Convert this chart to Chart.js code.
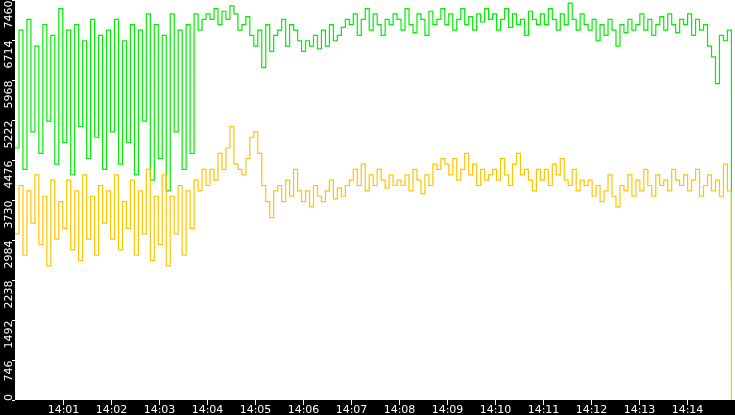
<!DOCTYPE html>
<html><head><meta charset="utf-8">
<script src="https://cdn.jsdelivr.net/npm/chart.js@4"></script>
<style>html,body{margin:0;padding:0;background:#000}#w{width:735px;height:415px}</style>
</head><body><div id="w"><canvas id="c"></canvas></div>
<script>
const xTickSeconds=[60,120,180,240,300,360,420,480,540,600,660,720,780,840];
const xTickLabels=["14:01","14:02","14:03","14:04","14:05","14:06","14:07","14:08","14:09","14:10","14:11","14:12","14:13","14:14"];
const yTicks=[0,746,1492,2238,2984,3730,4476,5222,5968,6714,7460];
const green=[
4700,6900,4300,7100,5000,6600,4600,7000,5200,6800,4400,7300,
4800,6900,4200,7000,5100,6700,4500,7100,4900,6800,4300,6900,
5000,7100,4400,6700,4800,7000,4200,6900,5200,7200,4100,7000,
4500,6800,3900,7200,5000,6900,4300,7000,4600,7200,6900,7100,
7200,7100,7300,7000,7250,7100,7350,7200,6900,7000,7150,6800,
6600,6900,6200,7000,6500,6800,6900,7100,6600,7000,6900,6700,
6500,6700,6600,6800,6550,6900,6600,7000,6700,6800,6950,7100,
7000,7200,6800,7100,7300,6900,7200,7000,6800,7100,7000,7200,
7100,6900,7300,7000,6850,7200,7100,6800,7250,7000,7100,7300,
7000,7200,6900,7100,7300,7000,7150,6900,7200,7050,7300,7100,
7200,6900,7100,7300,6950,7200,7000,7100,6800,7250,7100,7000,
7200,7000,7300,7100,6900,7200,7000,7400,7100,6900,7200,7000,
6900,7100,6700,7000,6800,7100,6900,6600,7000,6850,7100,6900,
7000,7200,6900,7100,6800,7000,7150,6900,7200,7000,6850,7100,
7000,7200,6800,7100,6900,7000,6600,6400,5900,6800,6700,6900,
2200];
const yellow=[
3100,4000,2700,3900,3300,4200,2900,3800,2500,4100,3000,3700,
3200,4100,2800,3900,2600,4200,3000,3800,2700,4000,3300,3900,
3000,4200,2800,3700,3200,4100,2700,3900,3100,4300,2600,3800,
2900,4200,2500,3800,3100,4000,2700,3900,3200,4100,3900,4300,
4000,4300,4100,4600,4300,4700,5100,4400,4300,4200,4500,4900,
5000,4600,4000,3700,3400,3900,4000,3700,4100,3800,4300,3900,
3700,3900,3600,4000,3800,3700,3900,4100,3750,3950,3800,4000,
4100,4300,4000,4400,3900,4200,4000,4300,4100,3950,4200,4000,
4100,4000,4200,3900,4300,4100,3850,4200,4000,4400,4300,4500,
4400,4200,4500,4100,4300,4600,4200,4400,4000,4300,4100,4200,
4300,4100,4500,4200,4000,4400,4600,4200,4300,4100,3900,4300,
4100,4300,4000,4400,4200,4500,4100,4000,4300,3900,4100,4000,
4100,3800,4000,3700,3900,4200,3800,3600,4000,3900,4200,3800,
4100,3900,4300,4000,3800,4200,4000,4100,3900,4300,4100,4000,
4200,3900,4100,4300,3800,4000,4200,3900,4100,3800,4400,3900,
0];
const step=4.975;
const pts=a=>a.map((v,i)=>({x:i*step,y:v}));
const FONT='11px "DejaVu Sans"';
const deco={id:'deco',
beforeDraw(ch){const c=ch.ctx,a=ch.chartArea;c.save();c.fillStyle='#000';c.fillRect(0,0,ch.width,ch.height);
c.fillStyle='#fff';c.fillRect(a.left,a.top,a.right-a.left,a.bottom-a.top);c.restore();},
afterDraw(ch){const c=ch.ctx,a=ch.chartArea,xs=ch.scales.x,ys=ch.scales.y;c.save();
c.fillStyle='#fff';c.strokeStyle='#fff';c.lineWidth=1;c.font=FONT;
xTickSeconds.forEach((s,i)=>{const x=Math.round(xs.getPixelForValue(s))+0.5;
c.beginPath();c.moveTo(x,a.bottom);c.lineTo(x,a.bottom+5);c.stroke();
c.textAlign='center';c.textBaseline='bottom';c.fillText(xTickLabels[i],x,ch.height+1);});
yTicks.forEach(v=>{const y=Math.round(ys.getPixelForValue(v))+0.5;
c.beginPath();c.moveTo(a.left-3,y);c.lineTo(a.left,y);c.stroke();
const w=c.measureText(String(v)).width;
const o=Math.min(y,a.bottom+1-w);
c.save();c.translate(12,o);c.rotate(-Math.PI/2);c.textBaseline='alphabetic';c.textAlign='right';
c.fillText(String(v),0,0);c.restore();});
c.restore();}};
new Chart(document.getElementById('c'),{type:'line',
data:{datasets:[
{data:pts(yellow),borderColor:'#ffc400',borderWidth:1.2,stepped:true,pointRadius:0},
{data:pts(green),borderColor:'#00ee00',borderWidth:1.2,stepped:true,pointRadius:0}]},
options:{responsive:true,maintainAspectRatio:false,animation:false,
layout:{padding:{left:15,bottom:15,top:0,right:0}},
plugins:{legend:{display:false},tooltip:{enabled:false}},
scales:{x:{type:'linear',min:0,max:900,display:false},y:{min:0,max:7460,display:false}}},
plugins:[deco]});
</script></body></html>
